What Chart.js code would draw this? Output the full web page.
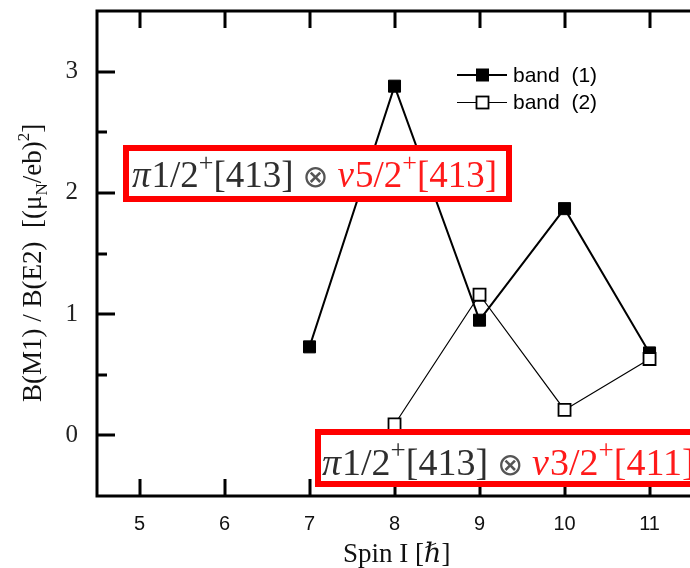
<!DOCTYPE html>
<html>
<head>
<meta charset="utf-8">
<script src="https://cdn.jsdelivr.net/npm/chart.js@4.4.1/dist/chart.umd.min.js"></script>
<style>
  html, body { margin: 0; padding: 0; background: #fff; overflow: hidden; }
  canvas { display: block; }
</style>
</head>
<body>
<canvas id="chart" width="690" height="568"></canvas>
<script>
// data
const spins = [7, 8, 9, 10, 11];
const band1 = [0.73, 2.88, 0.95, 1.87, 0.68];
const band2 = [null, 0.09, 1.16, 0.21, 0.63];
const xTickValues = [5, 6, 7, 8, 9, 10, 11];
const yTickValues = [0, 1, 2, 3];
const yMinorValues = [0.5, 1.5, 2.5];
const seriesNames = ['band  (1)', 'band  (2)'];

const toPoints = arr => spins.map((s, i) => ({ x: s, y: arr[i] })).filter(p => p.y !== null);

// frame + inward tick marks
const framePlugin = {
  id: 'frame',
  beforeDatasetsDraw(chart) {
    const { ctx, chartArea: a, scales: { x, y } } = chart;
    ctx.save();
    ctx.strokeStyle = '#000';
    ctx.lineWidth = 3;
    ctx.lineCap = 'butt';
    ctx.beginPath();
    ctx.moveTo(chart.width + 5, a.top);
    ctx.lineTo(a.left, a.top);
    ctx.lineTo(a.left, a.bottom);
    ctx.lineTo(chart.width + 5, a.bottom);
    ctx.stroke();
    ctx.beginPath();
    xTickValues.forEach(v => {
      const px = Math.round(x.getPixelForValue(v));
      ctx.moveTo(px, a.bottom); ctx.lineTo(px, a.bottom - 17);
      ctx.moveTo(px, a.top); ctx.lineTo(px, a.top + 17);
    });
    yTickValues.forEach(v => {
      const py = Math.round(y.getPixelForValue(v));
      ctx.moveTo(a.left, py); ctx.lineTo(a.left + 18, py);
    });
    yMinorValues.forEach(v => {
      const py = Math.round(y.getPixelForValue(v));
      ctx.moveTo(a.left, py); ctx.lineTo(a.left + 10, py);
    });
    ctx.stroke();
    ctx.restore();
  }
};

function drawRuns(ctx, runs, x, y) {
  runs.forEach(r => {
    ctx.font = r.font;
    ctx.fillStyle = r.color || '#000';
    ctx.fillText(r.t, x, y + (r.dy || 0));
    x += ctx.measureText(r.t).width + (r.gap || 0);
  });
  return x;
}

function labelRuns(second, third, size) {
  const grey = '#2e2e2e', red = '#ff1a1a';
  const it = 'italic ' + size + "px 'Liberation Serif'";
  const rm = size + "px 'Liberation Serif'";
  const sup = Math.round(size * 0.7) + "px 'Liberation Serif'";
  return [
    { t: 'π', font: it, color: grey, gap: 1 },
    { t: '1/2', font: rm, color: grey },
    { t: '+', font: sup, color: grey, dy: -16 },
    { t: '[413]', font: rm, color: grey, gap: 9 },
    { t: '⊗', font: "31px 'DejaVu Sans'", color: '#555', gap: 9 },
    { t: 'ν', font: it, color: red, gap: 1 },
    { t: second, font: rm, color: red },
    { t: '+', font: sup, color: red, dy: -16 },
    { t: third, font: rm, color: red }
  ];
}

const overlayPlugin = {
  id: 'overlay',
  afterDatasetsDraw(chart) {
    const { ctx } = chart;
    ctx.save();
    ctx.textBaseline = 'alphabetic';
    ctx.textAlign = 'left';

    // configuration boxes
    const boxes = [
      { x: 126, y: 148, w: 383, h: 51, tx: 132, ty: 187, runs: labelRuns('5/2', '[413]', 37) },
      { x: 318, y: 432, w: 420, h: 52, tx: 322, ty: 475, runs: labelRuns('3/2', '[411]', 38) }
    ];
    boxes.forEach(b => {
      ctx.fillStyle = '#fff';
      ctx.fillRect(b.x, b.y, b.w, b.h);
      ctx.strokeStyle = '#ff0000';
      ctx.lineWidth = 6;
      ctx.strokeRect(b.x, b.y, b.w, b.h);
      drawRuns(ctx, b.runs, b.tx, b.ty);
    });

    // legend
    seriesNames.forEach((name, i) => {
      const ds = chart.data.datasets.find(d => d.label === name);
      const ly = 75 + i * 27.5;
      ctx.strokeStyle = '#000';
      ctx.lineWidth = ds.borderWidth;
      ctx.beginPath();
      ctx.moveTo(457, ly); ctx.lineTo(507, ly);
      ctx.stroke();
      ctx.fillStyle = ds.pointBackgroundColor;
      ctx.lineWidth = ds.pointBorderWidth;
      ctx.fillRect(476.5, ly - 6, 12, 12);
      ctx.strokeRect(476.5, ly - 6, 12, 12);
      ctx.fillStyle = '#000';
      ctx.font = "21px 'Liberation Sans'";
      ctx.textBaseline = 'middle';
      ctx.fillText(name, 513, ly + 1);
      ctx.textBaseline = 'alphabetic';
    });

    // axis titles
    ctx.save();
    ctx.translate(41, 402);
    ctx.rotate(-Math.PI / 2);
    const tf = "27px 'Liberation Serif'";
    const sf = "17px 'Liberation Serif'";
    drawRuns(ctx, [
      { t: 'B(M1) / B(E2)  [(μ', font: tf, color: '#111' },
      { t: 'N', font: sf, color: '#111', dy: 6 },
      { t: '/eb)', font: tf, color: '#111' },
      { t: '2', font: sf, color: '#111', dy: -12 },
      { t: ']', font: tf, color: '#111' }
    ], 0, 0);
    ctx.restore();

    drawRuns(ctx, [
      { t: 'Spin I [', font: "27px 'Liberation Serif'", color: '#111' },
      { t: 'ℏ', font: "italic 27px 'Liberation Serif', 'DejaVu Serif'", color: '#111' },
      { t: ']', font: "27px 'Liberation Serif'", color: '#111' }
    ], 343, 562);
    ctx.restore();
  }
};

new Chart(document.getElementById('chart'), {
  type: 'line',
  data: {
    datasets: [
      {
        label: seriesNames[0],
        order: 1,
        data: toPoints(band1),
        borderColor: '#000',
        borderWidth: 2,
        pointStyle: 'rect',
        pointRadius: 8.5,
        pointBackgroundColor: '#000',
        pointBorderColor: '#000',
        pointBorderWidth: 1,
        tension: 0
      },
      {
        label: seriesNames[1],
        order: 0,
        data: toPoints(band2),
        borderColor: '#000',
        borderWidth: 1.2,
        pointStyle: 'rect',
        pointRadius: 8.5,
        pointBackgroundColor: '#fff',
        pointBorderColor: '#000',
        pointBorderWidth: 1.8,
        tension: 0
      }
    ]
  },
  options: {
    responsive: false,
    animation: false,
    events: [],
    layout: { autoPadding: false, padding: { top: 11, right: 0, bottom: 0, left: 0 } },
    plugins: { legend: { display: false }, tooltip: { enabled: false } },
    scales: {
      x: {
        type: 'linear',
        bounds: 'data',
        min: 4.5,
        max: 11.476,
        grid: { display: false, drawTicks: false },
        border: { display: false },
        afterBuildTicks: s => { s.ticks = xTickValues.map(v => ({ value: v })); },
        afterFit: s => { s.height = 72; s.paddingLeft = 0; s.paddingRight = 0; },
        ticks: {
          padding: 16,
          color: '#111',
          font: { family: 'Liberation Sans', size: 20 },
          maxRotation: 0,
          autoSkip: false
        }
      },
      y: {
        bounds: 'data',
        min: -0.5,
        max: 3.5,
        grid: { display: false, drawTicks: false },
        border: { display: false },
        afterBuildTicks: s => { s.ticks = yTickValues.map(v => ({ value: v })); },
        afterFit: s => { s.width = 97; s.paddingTop = 0; s.paddingBottom = 0; },
        ticks: {
          padding: 19,
          color: '#222',
          font: { family: 'Liberation Serif', size: 25 }
        }
      }
    }
  },
  plugins: [framePlugin, overlayPlugin]
});
</script>
</body>
</html>
